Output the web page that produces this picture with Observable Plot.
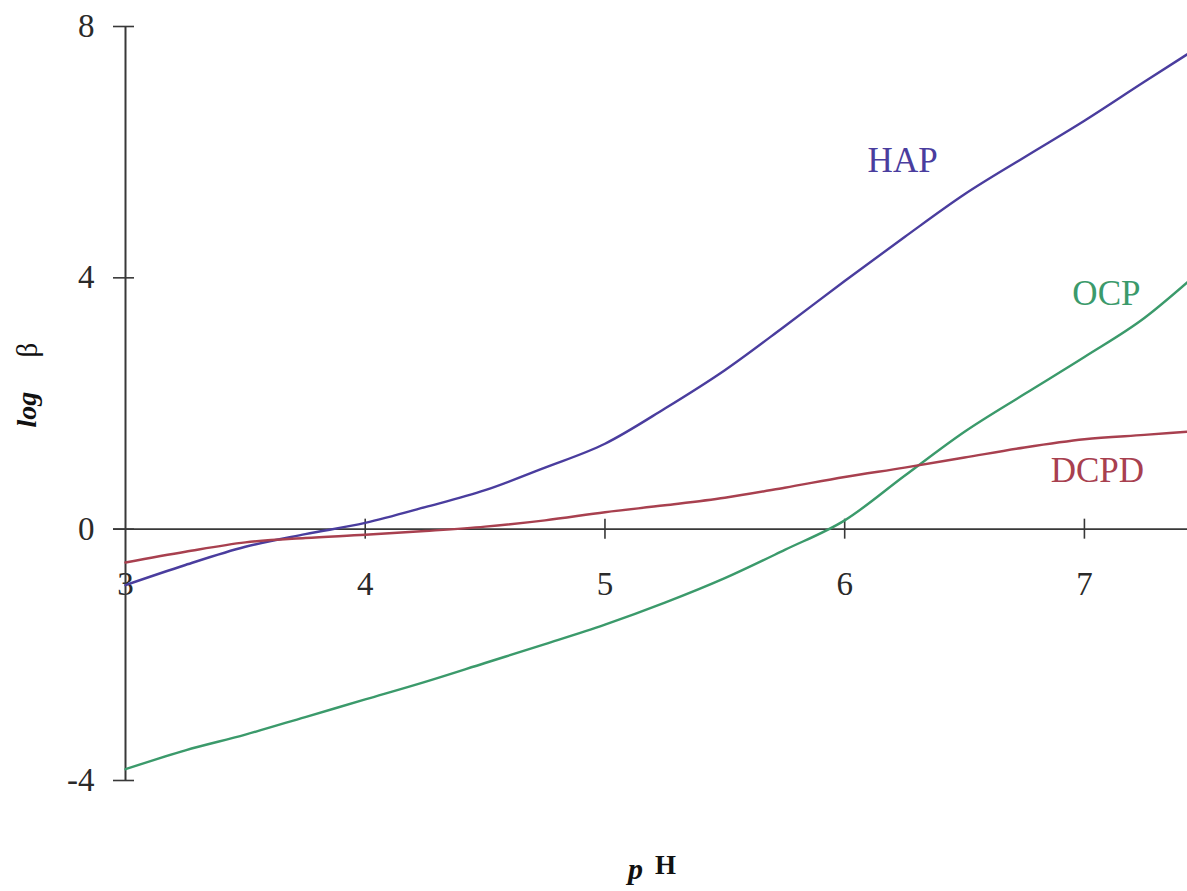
<!DOCTYPE html>
<html>
<head>
<meta charset="utf-8">
<script src="https://cdn.jsdelivr.net/npm/d3@7"></script>
<script src="https://cdn.jsdelivr.net/npm/@observablehq/plot@0.6"></script>
<style>
  html, body { margin: 0; padding: 0; background: #ffffff; }
  #chart svg { display: block; }
</style>
</head>
<body>
<div id="chart"></div>
<script>
// pH grid and log β for each calcium phosphate phase
const pH   = [3.0, 3.25, 3.5, 3.75, 4.0, 4.25, 4.5, 4.75, 5.0, 5.25, 5.5, 5.75, 6.0, 6.25, 6.5, 6.75, 7.0, 7.25, 7.43];
const hap  = [-0.89, -0.57, -0.28, -0.08, 0.10, 0.35, 0.62, 0.98, 1.36, 1.92, 2.53, 3.23, 3.95, 4.65, 5.33, 5.92, 6.50, 7.12, 7.56];
const ocp  = [-3.82, -3.52, -3.27, -2.99, -2.71, -2.43, -2.13, -1.83, -1.52, -1.17, -0.78, -0.33, 0.14, 0.85, 1.55, 2.15, 2.74, 3.36, 3.93];
const dcpd = [-0.53, -0.36, -0.21, -0.14, -0.09, -0.03, 0.04, 0.14, 0.27, 0.38, 0.50, 0.66, 0.83, 0.98, 1.14, 1.30, 1.43, 1.50, 1.55];

const seriesNames = ["HAP", "OCP", "DCPD"];
const xTicks = [4, 5, 6, 7];
const xTickLabels = [3, 4, 5, 6, 7];
const yTicks = [-4, 0, 4, 8];

const palette = { HAP: "#4a3d9e", OCP: "#3b9a6b", DCPD: "#a8404f" };
const axisColor = "#383838";
const serif = "'Liberation Serif', 'Times New Roman', serif";

// long-format table for the line marks
const valuesBySeries = { HAP: hap, OCP: ocp, DCPD: dcpd };
const rows = seriesNames.flatMap(name =>
  pH.map((x, i) => ({ series: name, pH: x, logB: valuesBySeries[name][i] }))
);

// each curve label hangs off a point on its own curve
function pointOf(name, at) {
  const i = pH.indexOf(at);
  return [{ series: name, pH: pH[i], logB: valuesBySeries[name][i] }];
}
function curveLabel(name, at, dx, dy) {
  return Plot.text(pointOf(name, at), {
    x: "pH", y: "logB", text: () => name,
    dx, dy, fill: palette[name],
    fontSize: 35, fontFamily: serif
  });
}

const chart = Plot.plot({
  width: 1187,
  height: 891,
  marginLeft: 125,
  marginRight: 0,
  marginTop: 26,
  marginBottom: 111,
  style: { fontFamily: serif, fontSize: "33px", background: "#ffffff", overflow: "visible" },
  x: { domain: [3, 7.43], axis: null },
  y: { domain: [-4, 8], axis: null },
  marks: [
    // horizontal axis through log β = 0, with crossing tick marks
    Plot.ruleY([0], { stroke: axisColor, strokeWidth: 1.6, insetLeft: -12 }),
    Plot.ruleX(xTicks, { x: d => d, y1: 0, y2: 0, insetTop: -10, insetBottom: -10, stroke: axisColor, strokeWidth: 1.6 }),
    Plot.text(xTickLabels, { x: d => d, y: 0, dy: 55, text: d => String(d), fill: "#2a2a2a" }),

    // vertical axis at the left edge of the pH range
    Plot.ruleX([3], { y1: -4, y2: 8, stroke: axisColor, strokeWidth: 2 }),
    Plot.ruleY(yTicks, { y: d => d, x1: 3, x2: 3, insetLeft: -12, insetRight: -9, stroke: axisColor, strokeWidth: 1.6 }),
    Plot.text(yTicks, { y: d => d, frameAnchor: "left", dx: -31, textAnchor: "end", text: d => String(d), fill: "#2a2a2a" }),

    // the three solubility curves
    Plot.line(rows, {
      x: "pH", y: "logB", z: "series",
      stroke: d => palette[d.series],
      strokeWidth: 2.4,
      curve: "monotone-x"
    }),

    curveLabel("HAP", 6.25, -2, -76),
    curveLabel("OCP", 7.0, 22, -63),
    curveLabel("DCPD", 7.0, 13, 31),

    // axis titles
    Plot.text(["p"], { frameAnchor: "bottom", dx: -21, dy: 98, text: d => d, fontSize: 30, fontStyle: "italic", fontWeight: "bold", fill: "#111" }),
    Plot.text(["H"], { frameAnchor: "bottom", dx: 9, dy: 93, text: d => d, fontSize: 27, fontWeight: "bold", fill: "#111" }),
    Plot.text(["log"], { frameAnchor: "left", dx: -98, dy: 24, rotate: -90, text: d => d, fontSize: 28, fontStyle: "italic", fontWeight: "bold", fill: "#111" }),
    Plot.text(["β"], { frameAnchor: "left", dx: -98, dy: -46, rotate: -90, text: d => d, fontSize: 29, fill: "#111" })
  ]
});

document.getElementById("chart").appendChild(chart);
</script>
</body>
</html>
